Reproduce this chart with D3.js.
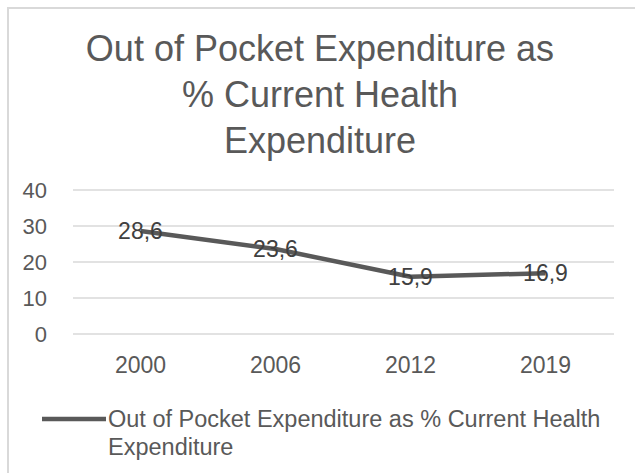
<!DOCTYPE html>
<html>
<head>
<meta charset="utf-8">
<script src="https://cdn.jsdelivr.net/npm/d3@7"></script>
<style>
  body { margin: 0; background: #fff; }
  svg text { font-family: "Liberation Sans", Arial, sans-serif; fill: #595959; }
</style>
</head>
<body>
<script>
var years = ["2000", "2006", "2012", "2019"];
var values = [28.6, 23.6, 15.9, 16.9];
var yTicks = [0, 10, 20, 30, 40];
var titleLines = ["Out of Pocket Expenditure as", "% Current Health", "Expenditure"];
var legendLines = ["Out of Pocket Expenditure as % Current Health", "Expenditure"];

var width = 635;
var height = 473;

var svg = d3.select("body")
            .append("svg")
            .attr("width", width)
            .attr("height", height);

// chart frame (only top and left edges show in the crop)
svg.append("rect")
   .attr("x", 8).attr("y", 8)
   .attr("width", 640).attr("height", 480)
   .attr("fill", "none")
   .attr("stroke", "#d9d9d9")
   .attr("stroke-width", 2);

svg.append("text")
   .attr("text-anchor", "middle")
   .style("font-size", "36px")
   .selectAll("tspan")
   .data(titleLines)
   .enter()
   .append("tspan")
   .attr("x", 320)
   .attr("y", function(d, i) { return 61 + i * 46; })
   .text(function(d) { return d; });

var x = d3.scaleBand().domain(years).range([73, 613]);
var y = d3.scaleLinear().domain([0, 40]).range([334, 190]);

var grid = svg.append("g");
grid.selectAll("line")
    .data(yTicks)
    .enter()
    .append("line")
    .attr("x1", 73).attr("x2", 614)
    .attr("y1", function(d) { return y(d); })
    .attr("y2", function(d) { return y(d); })
    .attr("stroke", "#d9d9d9")
    .attr("stroke-width", 1.5);

var yAxis = svg.append("g")
               .attr("transform", "translate(57,0)")
               .call(d3.axisLeft(y).tickValues(yTicks).tickSize(0).tickPadding(10));
yAxis.select(".domain").remove();
yAxis.selectAll("text")
     .style("font-size", "22px")
     .attr("fill", "#595959")
     .attr("x", -10);

var xAxis = svg.append("g")
               .attr("transform", "translate(0,356)")
               .call(d3.axisBottom(x).tickSize(0).tickPadding(10));
xAxis.select(".domain").remove();
xAxis.selectAll("text")
     .style("font-size", "23px")
     .attr("fill", "#595959")
     .attr("dy", "0.3em");

var line = d3.line()
             .x(function(d, i) { return x(years[i]) + x.bandwidth() / 2; })
             .y(function(d) { return y(d); });

svg.append("path")
   .datum(values)
   .attr("d", line)
   .attr("fill", "none")
   .attr("stroke", "#595959")
   .attr("stroke-width", 4.5)
   .attr("stroke-linejoin", "round");

svg.append("g")
   .selectAll("text")
   .data(values)
   .enter()
   .append("text")
   .attr("text-anchor", "middle")
   .attr("x", function(d, i) { return x(years[i]) + x.bandwidth() / 2; })
   .attr("y", function(d) { return y(d); })
   .attr("dy", "0.35em")
   .style("font-size", "23px")
   .style("fill", "#404040")
   .text(function(d) { return String(d).replace(".", ","); });

// legend
svg.append("line")
   .attr("x1", 42).attr("x2", 106)
   .attr("y1", 419).attr("y2", 419)
   .attr("stroke", "#595959")
   .attr("stroke-width", 4.5);

svg.append("text")
   .style("font-size", "23.5px")
   .selectAll("tspan")
   .data(legendLines)
   .enter()
   .append("tspan")
   .attr("x", 108)
   .attr("y", function(d, i) { return 427 + i * 28; })
   .text(function(d) { return d; });
</script>
</body>
</html>
